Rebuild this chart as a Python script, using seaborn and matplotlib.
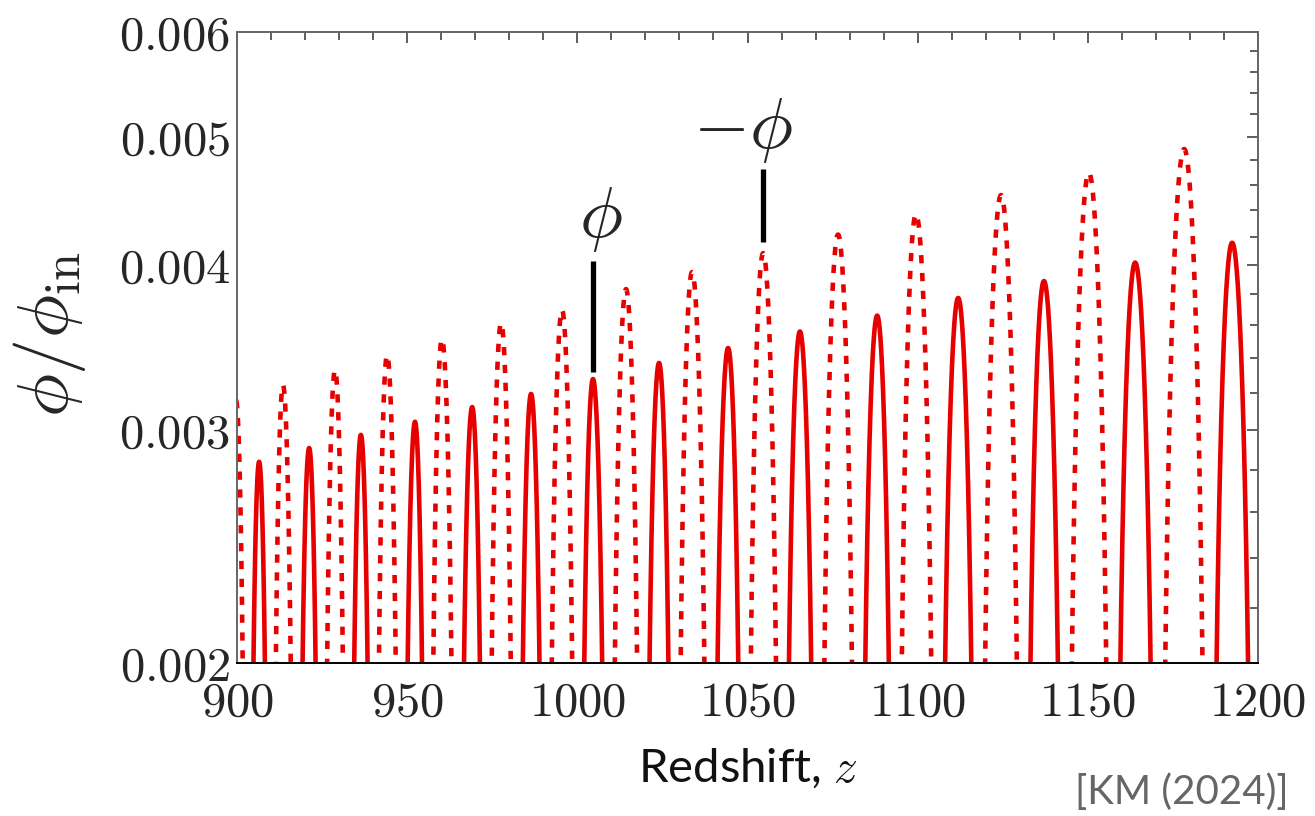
import numpy as np
import pandas as pd
import seaborn as sns
import matplotlib
matplotlib.use("Agg")
import matplotlib.pyplot as plt
from matplotlib.ticker import FixedLocator, FixedFormatter, NullFormatter

# Local maxima of phi (positive lobes, drawn solid)
pos_peak_z = [906.5, 921.2, 936.4, 952.3, 969.1, 986.4, 1004.6, 1024.0, 1044.3,
              1065.4, 1088.1, 1111.9, 1137.1, 1163.9, 1192.4]
pos_peak_val = [0.002839, 0.002908, 0.002975, 0.003044, 0.003123, 0.003195, 0.003279,
                0.003372, 0.003461, 0.003562, 0.003662, 0.003776, 0.003889, 0.004016,
                0.004157]

# Local minima of phi (negative lobes, drawn dotted as -phi)
neg_peak_z = [899.7, 913.5, 928.8, 944.1, 960.2, 977.6, 995.5, 1014.3, 1033.7, 1054.6,
              1076.6, 1099.5, 1124.5, 1150.3, 1178.3, 1207.0]
neg_peak_val = [-0.00316, -0.003245, -0.003331, -0.003419, -0.003516, -0.003615, -0.003698,
                -0.003835, -0.003950, -0.004083, -0.004217, -0.004370, -0.004517, -0.004696,
                -0.004894, -0.00510]

x_ticks = [900, 950, 1000, 1050, 1100, 1150, 1200]
y_ticks = [0.002, 0.003, 0.004, 0.005, 0.006]
y_tick_labels = ["0.002", "0.003", "0.004", "0.005", "0.006"]

# Annotation markers: (z, lower value, upper value)
phi_marker = (1004.6, 0.003319, 0.004027)
negphi_marker = (1054.6, 0.004163, 0.004726)

RED = "#E60000"

# --- build the oscillating curve between successive extrema -------------------------
ext_z = np.array(pos_peak_z + neg_peak_z)
ext_v = np.array(pos_peak_val + neg_peak_val)
order = np.argsort(ext_z)
ext_z, ext_v = ext_z[order], ext_v[order]

z = np.linspace(ext_z[0], 1200.5, 9000)
k = np.clip(np.searchsorted(ext_z, z, side="right") - 1, 0, len(ext_z) - 2)
z0, z1 = ext_z[k], ext_z[k + 1]
v0, v1 = ext_v[k], ext_v[k + 1]
phi = 0.5 * (v0 + v1) + 0.5 * (v0 - v1) * np.cos(np.pi * (z - z0) / (z1 - z0))

sign = np.sign(phi)
lobe = np.concatenate([[0], np.cumsum(sign[1:] != sign[:-1])])
df = pd.DataFrame({"z": z, "amp": np.abs(phi),
                   "sign": np.where(phi > 0, "pos", "neg"), "lobe": lobe})
df = df[df["amp"] > 0.0019]

# --- figure ---------------------------------------------------------------------------
sns.set_style("white")
plt.rcParams["mathtext.fontset"] = "cm"
plt.rcParams["font.family"] = ["Lato", "DejaVu Sans"]

fig = plt.figure(figsize=(13.15, 8.16), dpi=100)
ax = fig.add_axes([237 / 1315, 1 - 663 / 816, 1021 / 1315, 631 / 816])
ax.set_yscale("log")

sns.lineplot(data=df, x="z", y="amp", units="lobe", estimator=None, sort=False,
             style="sign", style_order=["pos", "neg"],
             dashes={"pos": "", "neg": (1.8, 2.1)},
             color=RED, linewidth=3.3, legend=False, ax=ax)

# vertical markers and labels for phi and -phi
for zz, lo, hi in (phi_marker, negphi_marker):
    ax.plot([zz, zz], [lo, hi], color="black", lw=3.8, solid_capstyle="butt")
ax.text(1007.0, 0.004330, r"$\phi$", fontsize=52, ha="center", va="center")
ax.text(1048.7, 0.005058, r"$-\phi$", fontsize=52, ha="center", va="center")

ax.set_xlim(900, 1200)
ax.set_ylim(0.002, 0.006)

ax.xaxis.set_major_locator(FixedLocator(x_ticks))
ax.xaxis.set_minor_locator(FixedLocator(np.arange(900, 1201, 10)))
ax.set_xticklabels([f"${t}$" for t in x_ticks])

ax.yaxis.set_major_locator(FixedLocator(y_ticks))
ax.yaxis.set_major_formatter(FixedFormatter([f"${s}$" for s in y_tick_labels]))
ax.yaxis.set_minor_locator(FixedLocator(np.arange(0.002, 0.00601, 0.0002)))
ax.yaxis.set_minor_formatter(NullFormatter())

ax.tick_params(which="both", direction="in", top=True, right=True,
               width=1.1, color="#333333")
ax.tick_params(which="major", length=8)
ax.tick_params(which="minor", length=5.5)
ax.tick_params(axis="x", which="major", labelsize=35, pad=12)
ax.tick_params(axis="y", which="major", labelsize=35, pad=5)

for name, sp in ax.spines.items():
    sp.set_visible(True)
    sp.set_linewidth(1.4)
    sp.set_color("black" if name == "bottom" else "#666666")

ax.set_xlabel(r"Redshift, $z$", fontsize=34, labelpad=16, color="#111111")
ax.set_ylabel(r"$\phi/\phi_{\rm in}$", fontsize=52)
ax.yaxis.set_label_coords(-0.146, 0.52)

fig.text(1289 / 1315, 1 - 804 / 816, "[KM (2024)]", fontsize=29,
         color="#666666", ha="right", va="baseline")

fig.savefig("out.png", dpi=100)
